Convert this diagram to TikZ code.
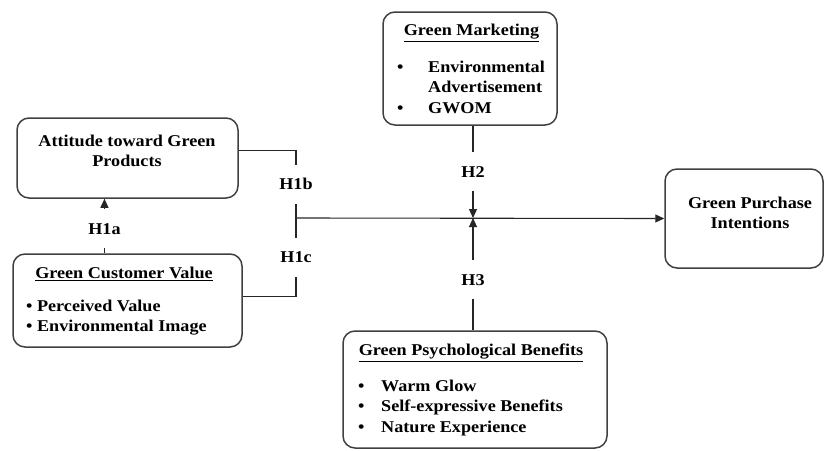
\documentclass[tikz,border=0pt]{standalone}
\usepackage{fontspec}
\setmainfont{Liberation Serif}[FakeStretch=1.1]
\usepackage{tikz}
\usetikzlibrary{calc,arrows.meta}
\def\bul[#1]#2{\makebox[#1][l]{\textbullet}#2}
\tikzset{
	box/.style={draw=black!75, line width=1.5pt, rounded corners=12pt, inner sep=0pt},
	txt/.style={font=\fontsize{16.5}{20.5}\selectfont\bfseries, inner sep=0pt},
	lbl/.style={txt, fill=white, inner xsep=3pt, inner ysep=14pt},
	ln/.style={line width=1.1pt, draw=black!85},
	arr/.style={-{Triangle[length=9pt,width=8pt]}},
}

\begin{document}
\begin{tikzpicture}[x=1pt,y=-1pt]
	%%%%% START %%%%%
	\useasboundingbox (0,0) rectangle (824,450);
	
	\node[box, minimum width=221, minimum height=80] (att) at (127.5,158) {};
	\node[txt, align=center] (att-t) at (127,151) {Attitude toward Green\\Products};
	
	\node[box, minimum width=229, minimum height=93] (gcv) at (127.5,300.5) {};
	\node[txt] (gcv-t) at (124,274) {\underline{Green Customer Value}};
	\node[txt, align=left, anchor=west] (gcv-l) at (26,317.5) {\textbullet\ Perceived Value\\\textbullet\ Environmental Image};
	
	\node[box, minimum width=174, minimum height=113] (gm) at (470,68.5) {};
	\node[txt] (gm-t) at (471.5,33) {\underline{Green Marketing}};
	\node[txt, align=left, anchor=west] (gm-l) at (397,87) {\bul[31pt]{Environmental}\\\hspace*{31pt}Advertisement\\\bul[31pt]{GWOM}};
	
	\node[box, minimum width=158, minimum height=99] (gpi) at (744,218.5) {};
	\node[txt, align=center] (gpi-t) at (750,213) {Green Purchase\\Intentions};
	
	\node[box, minimum width=264, minimum height=117] (gpb) at (475,389.5) {};
	\node[txt] (gpb-t) at (471,353) {\underline{Green Psychological Benefits}};
	\node[txt, align=left, anchor=west] (gpb-l) at (358,407.7) {\bul[23pt]{Warm Glow}\\\bul[23pt]{Self-expressive Benefits}\\\bul[23pt]{Nature Experience}};
	
	\coordinate (jb) at (296,218);
	\coordinate (jn) at (473,218);
	\coordinate (h1a) at ($(gcv.north west)!0.4!(gcv.north east)$);
	\coordinate (h1b) at ($(att.north east)!0.41!(att.south east)$);
	\coordinate (h1c) at ($(gcv.north east)!0.46!(gcv.south east)$);
	
	\draw[ln, arr] (h1a) -- (h1a |- att.south) node[lbl, pos=0.45] (l1a) {H1a};
	\draw[ln] (h1b) -| (jb) node[lbl, pos=0.75] (l1b) {H1b};
	\draw[ln] (h1c) -| (jb) node[lbl, pos=0.75] (l1c) {H1c};
	\draw[ln, arr] (jb) -- (gpi.west);
	
	\draw[ln, arr] (gm.south -| jn) -- (jn) node[lbl, midway] (l2) {H2};
	\draw[ln, arr] (gpb.north -| jn) -- (jn) node[lbl, pos=0.45] (l3) {H3};
	
	%%%%% END %%%%%
\end{tikzpicture}
\end{document}
